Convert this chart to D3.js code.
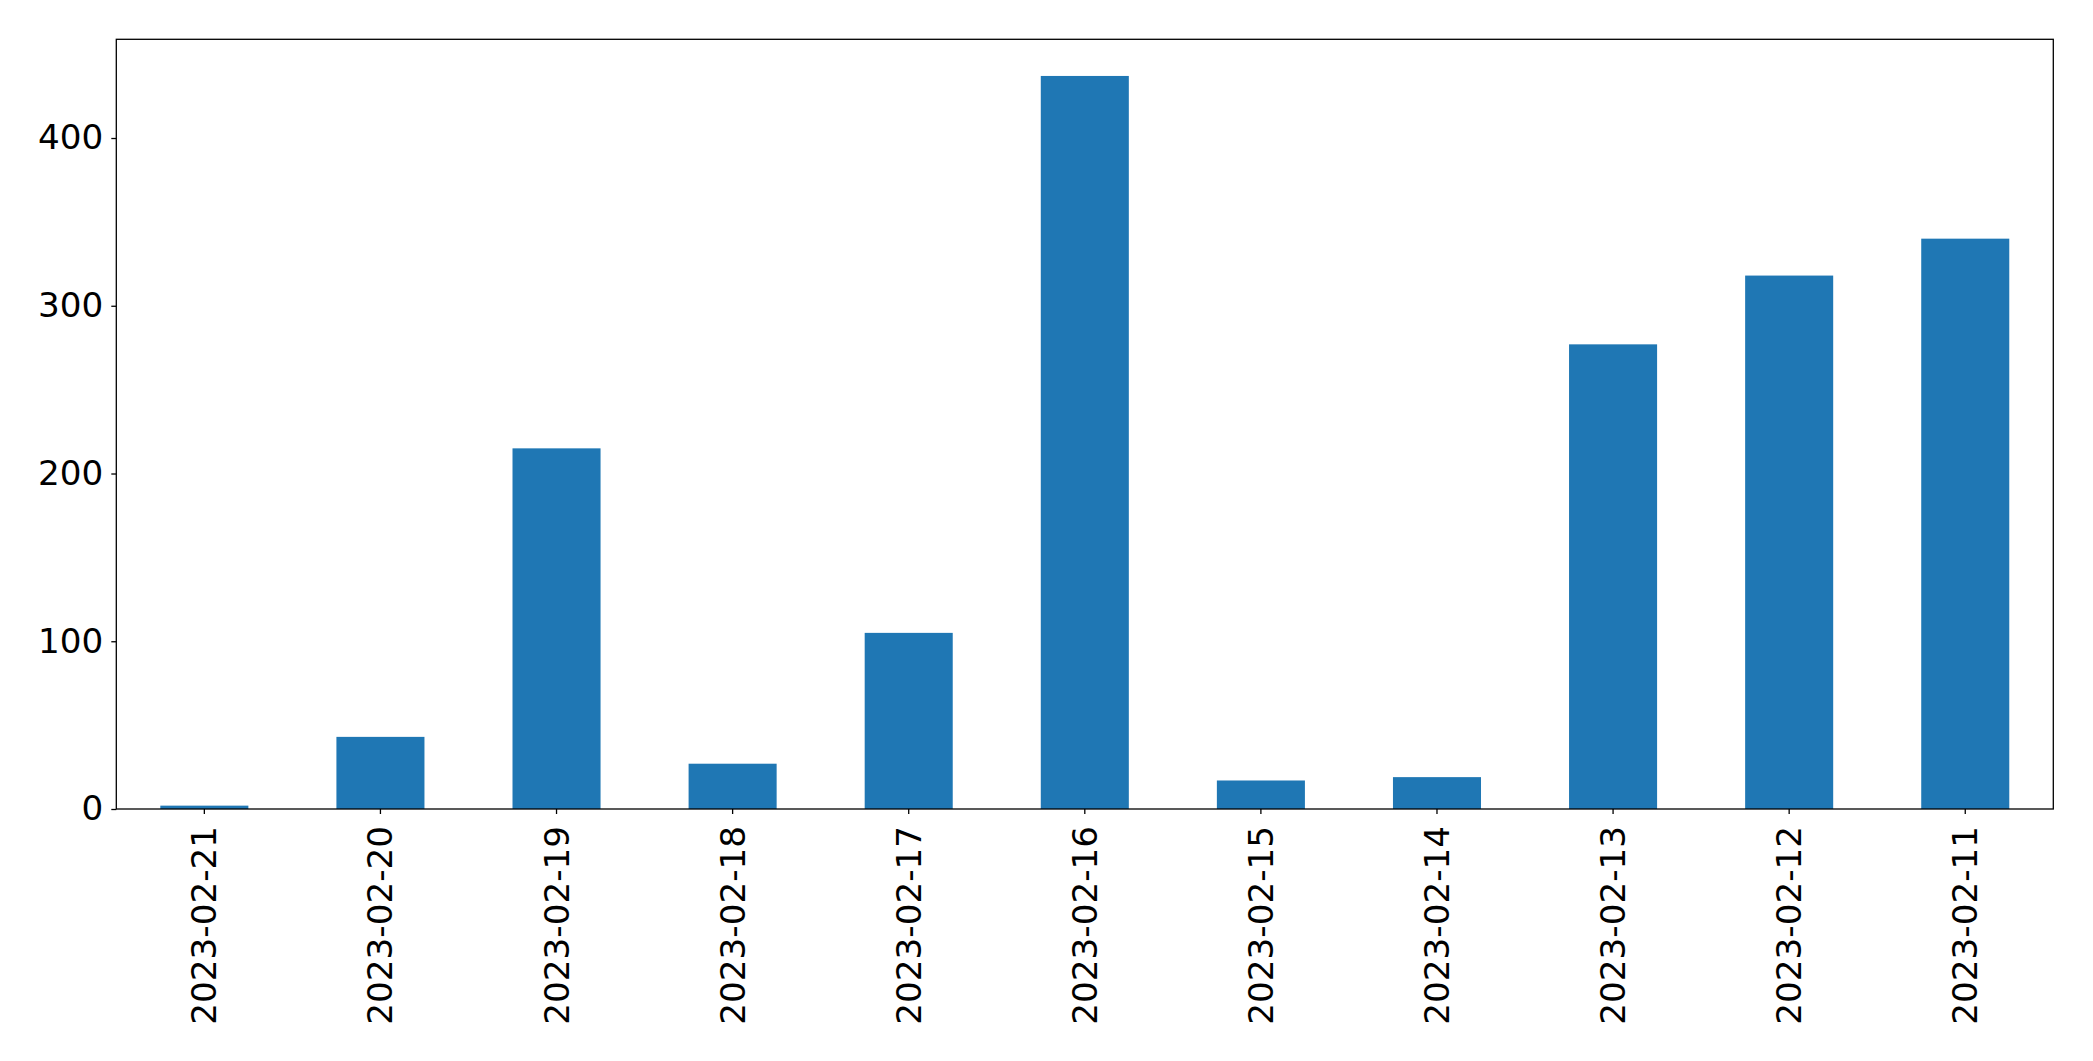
<!DOCTYPE html>
<html><head><meta charset="utf-8">
<script src="https://cdn.jsdelivr.net/npm/d3@7"></script>
<style>body{margin:0;background:#fff;} svg{display:block;}</style>
</head><body>
<script>
const categories = ["2023-02-21","2023-02-20","2023-02-19","2023-02-18","2023-02-17","2023-02-16","2023-02-15","2023-02-14","2023-02-13","2023-02-12","2023-02-11"];
const values = [2, 43, 215, 27, 105, 437, 17, 19, 277, 318, 340];
const yTicks = [0, 100, 200, 300, 400];

const W = 2093, H = 1061;
const m = {left: 116.3, right: W - 2053.3, top: 39.3, bottom: H - 809};
const svg = d3.select("body").append("svg").attr("width", W).attr("height", H);
const x = d3.scaleBand().domain(categories).range([m.left, W - m.right]).paddingInner(0.5).paddingOuter(0.25);
const y = d3.scaleLinear().domain([0, d3.max(values) * 1.05]).range([H - m.bottom, m.top]);
const font = "DejaVu Sans, sans-serif";
const fs = 34.2;

svg.append("g").selectAll("rect").data(values).join("rect")
  .attr("x", (d, i) => x(categories[i]))
  .attr("width", x.bandwidth())
  .attr("y", d => y(d))
  .attr("height", d => y(0) - y(d))
  .attr("fill", "#1f77b4");

const yAxis = svg.append("g").attr("transform", `translate(${m.left},0)`)
  .call(d3.axisLeft(y).tickValues(yTicks).tickSize(5).tickPadding(8).tickFormat(d3.format("d")));
yAxis.select(".domain").remove();
yAxis.selectAll("text").attr("font-family", font).attr("font-size", fs).attr("fill", "#000");
yAxis.selectAll("line").attr("stroke", "#000").attr("stroke-width", 1.3);

const xAxis = svg.append("g").attr("transform", `translate(0,${H - m.bottom})`)
  .call(d3.axisBottom(x).tickSize(5).tickPadding(0));
xAxis.select(".domain").remove();
xAxis.selectAll("line").attr("stroke", "#000").attr("stroke-width", 1.3);
xAxis.selectAll("text")
  .attr("font-family", font).attr("font-size", fs).attr("fill", "#000")
  .attr("text-anchor", "end").attr("dy", null).attr("y", 0)
  .attr("dominant-baseline", "central")
  .attr("transform", "translate(0,17) rotate(-90)");

svg.append("rect").attr("x", m.left).attr("y", m.top)
  .attr("width", W - m.left - m.right).attr("height", H - m.top - m.bottom)
  .attr("fill", "none").attr("stroke", "#000").attr("stroke-width", 1.3);
</script>
</body></html>
